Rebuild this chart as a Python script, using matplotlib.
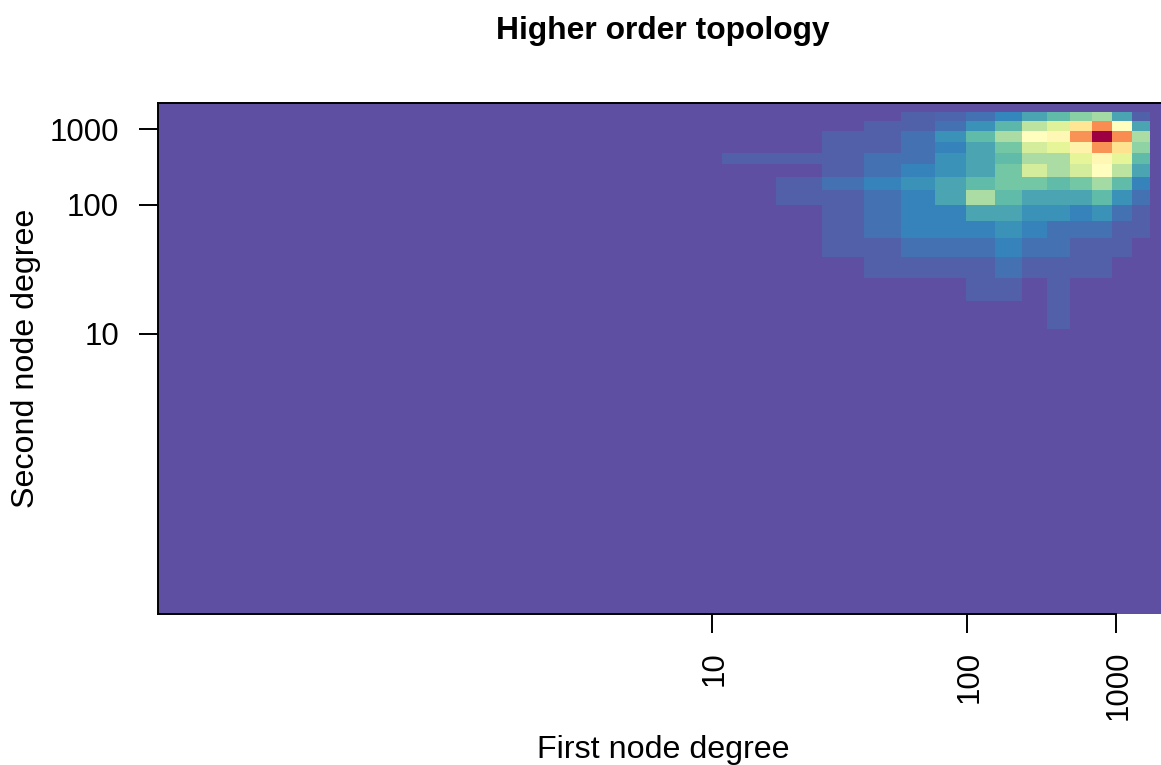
import numpy as np
import matplotlib
matplotlib.use('Agg')
import matplotlib.pyplot as plt
from matplotlib.ticker import NullLocator
from matplotlib.transforms import ScaledTranslation

plt.rcParams['font.family'] = ['Liberation Sans', 'DejaVu Sans']

# bin edges in node degree
edges = [1.667, 10.65, 15.5, 22.3, 32.5, 47, 68.5, 99.5, 145, 210, 305, 443,
         643, 934, 1357, 1970, 2860]
ticks = [10, 100, 1000]
tick_labels = ['10', '100', '1000']

# colour level per cell (0-100), top row of the picture first
# the first and last columns and rows are the empty outer bins
level_rows = [
    [0] * 16,
    [0, 0, 0, 0, 0, 3.5, 4, 6, 10, 15, 19, 25, 29, 15, 3.5, 0],
    [0, 0, 0, 0, 3, 3.5, 6, 12, 18, 33, 39, 58, 75, 50, 15, 0],
    [0, 0, 0, 3, 3, 6, 12, 19, 30, 50, 52, 74, 100, 75, 30, 0],
    [0, 0, 0, 3, 3, 6, 9, 15, 22, 37, 40, 54, 74, 59, 26, 0],
    [0, 3, 3, 3, 6, 6, 12, 15, 19, 30, 30, 40, 52, 40, 19, 0],
    [0, 0, 0, 3, 6, 9, 12, 15, 22, 37, 30, 37, 50, 33, 15, 0],
    [0, 0, 3, 6, 9, 12, 15, 19, 22, 22, 19, 22, 29, 19, 9, 0],
    [0, 0, 3, 3, 6, 9, 15, 30, 19, 15, 15, 15, 19, 12, 6, 0],
    [0, 0, 0, 3, 6, 9, 9, 15, 15, 12, 12, 9, 12, 6, 3, 0],
    [0, 0, 0, 3, 6, 9, 9, 9, 12, 9, 6, 6, 6, 3, 3, 0],
    [0, 0, 0, 3, 3, 6, 6, 6, 9, 6, 6, 3, 3, 3, 0, 0],
    [0, 0, 0, 0, 3, 3, 3, 3, 6, 3, 3, 3, 3, 0, 0, 0],
    [0, 0, 0, 0, 0, 0, 0, 3, 3, 0, 3, 0, 0, 0, 0, 0],
    [0, 0, 0, 0, 0, 0, 0, 0, 0, 0, 3, 0, 0, 0, 0, 0],
    [0] * 16,
]


def loglog_fwd(d):
    return np.log(np.log(np.maximum(d, 1.0001)))


def loglog_inv(u):
    return np.exp(np.exp(u))


def main():
    W, H = 1161, 765
    fig = plt.figure(figsize=(W / 100, H / 100), dpi=100)
    # right side of the box runs past the edge of the picture, as in the original
    ax = fig.add_axes([158 / W, 1 - 614 / H, (1168 - 158) / W, (614 - 103) / H])

    levels = np.array(level_rows)[::-1]
    ax.set_xscale('function', functions=(loglog_fwd, loglog_inv))
    ax.set_yscale('function', functions=(loglog_fwd, loglog_inv))
    ax.pcolormesh(edges, edges, levels, cmap='Spectral_r', vmin=0, vmax=100,
                  linewidth=0, antialiased=False)
    ax.set_xlim(edges[0], edges[-1])
    ax.set_ylim(edges[0], edges[-1])

    ax.set_xticks(ticks)
    ax.set_xticklabels(tick_labels, rotation=90)
    ax.set_yticks(ticks)
    ax.set_yticklabels(tick_labels)
    ax.xaxis.set_minor_locator(NullLocator())
    ax.yaxis.set_minor_locator(NullLocator())
    ax.tick_params(axis='x', length=14, width=1.4, labelsize=22.5, pad=12.5)
    ax.tick_params(axis='y', length=14, width=1.4, labelsize=22.5, pad=14)
    # rotated labels sit a little left of the tick otherwise
    shift = ScaledTranslation(2.5 / 100, 0, fig.dpi_scale_trans)
    for lab in ax.get_xticklabels():
        lab.set_transform(lab.get_transform() + shift)
    for s in ax.spines.values():
        s.set_linewidth(1.4)
    # bottom axis line stops at the last tick
    ax.spines['bottom'].set_bounds(edges[0], ticks[-1])

    ax.set_title('Higher order topology', fontsize=22.9, fontweight='bold',
                 x=0.5, y=1.0, pad=46)
    ax.set_xlabel('First node degree', fontsize=23.2)
    ax.set_ylabel('Second node degree', fontsize=23.2)
    ax.xaxis.set_label_coords(0.5, -(750 - 614) / (614 - 103), ax.transAxes)
    ax.yaxis.set_label_coords(-(158 - 26.5) / (1168 - 158), 0.5, ax.transAxes)
    ax.xaxis.get_label().set_va('center')
    ax.yaxis.get_label().set_va('center')

    fig.savefig('out.png', dpi=100)


if __name__ == '__main__':
    main()
